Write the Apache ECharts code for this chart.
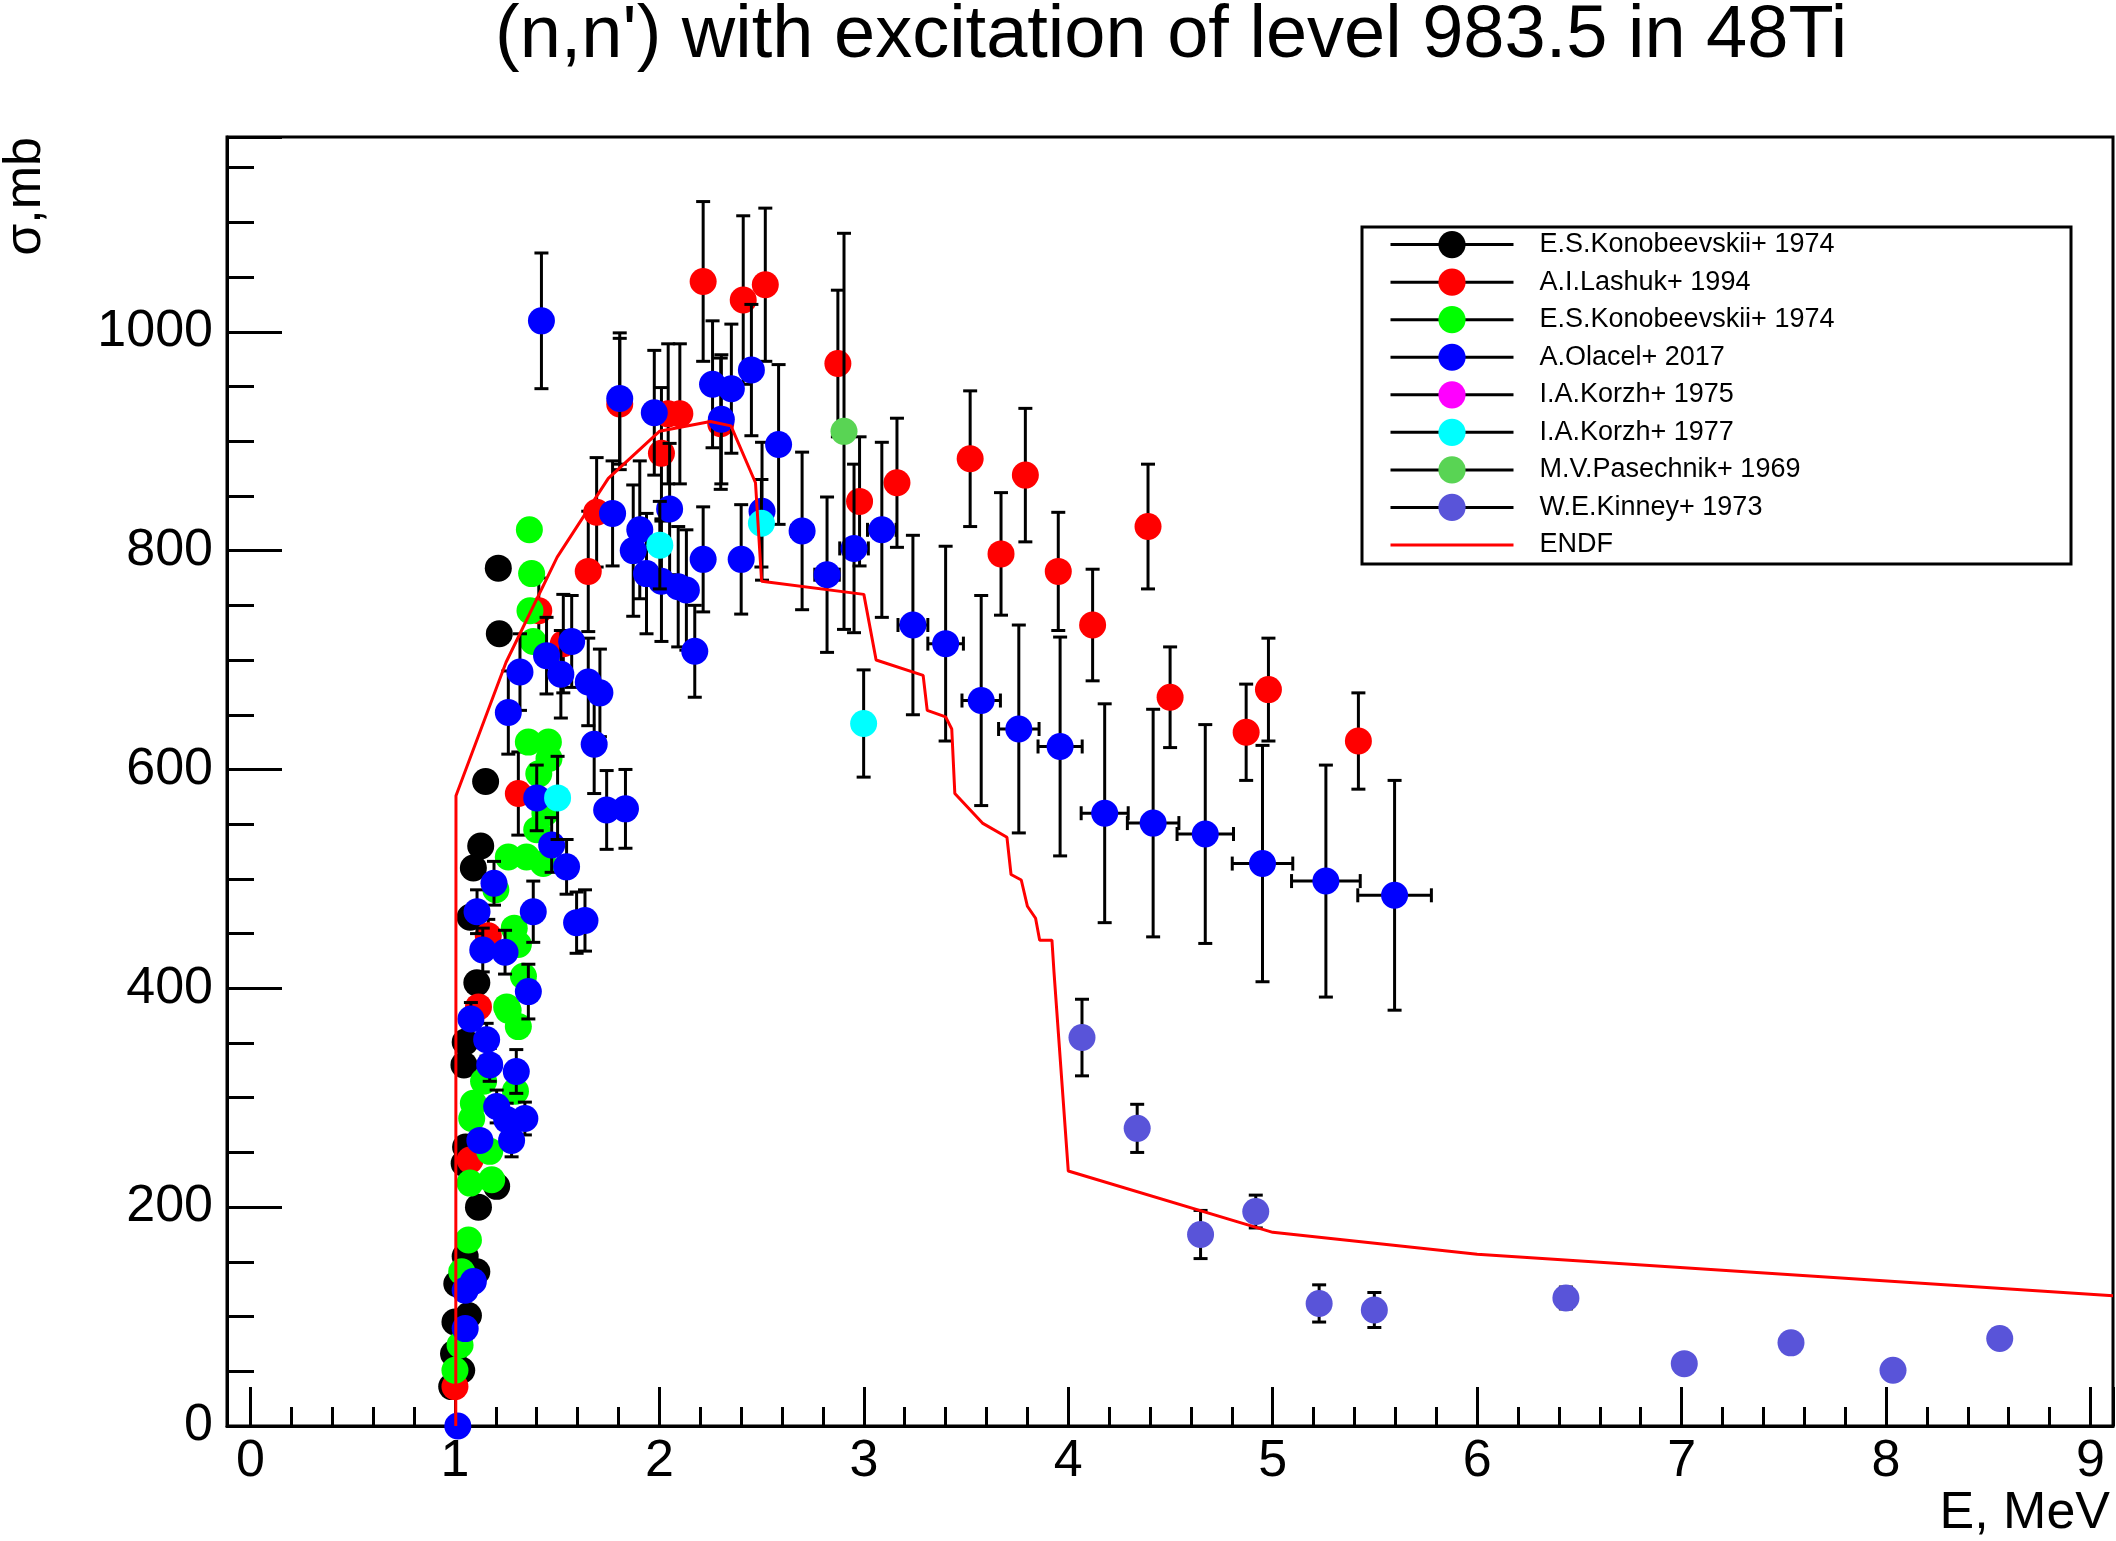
<!DOCTYPE html>
<html>
<head>
<meta charset="utf-8">
<script src="https://cdn.jsdelivr.net/npm/echarts@6.0.0/dist/echarts.min.js"></script>
<style>
html,body{margin:0;padding:0;background:#fff;}
#chart{width:2116px;height:1541px;}
</style>
</head>
<body>
<div id="chart"></div>
<script>
// ---------------- data ----------------
// [E (MeV), sigma (mb)]
const konobeevskiiBlack = [
  [0.984,36],[0.993,66],[1.0,95],[1.009,130],[1.033,51],[1.044,330],[1.045,240],[1.05,155],
  [1.05,351],[1.052,255],[1.066,101],[1.074,465],[1.09,510],[1.107,141],[1.107,405],[1.115,200],
  [1.126,530],[1.15,589],[1.204,219],[1.212,784],[1.217,724]
];
// [E, sigma, dSigma]
const lashuk = [
  [1.0,36,0],[1.074,243,0],[1.115,383,0],[1.163,448,15],[1.31,578,38],[1.41,745,30],[1.53,715,45],
  [1.652,781,55],[1.693,835,50],[1.806,934,60],[2.01,889,60],[2.043,925,64],[2.10,925,64],
  [2.214,1046,73],[2.30,916,60],[2.41,1029,77],[2.518,1043,70],[2.873,971,67],[2.979,845,59],
  [3.162,862,59],[3.52,884,62],[3.671,797,56],[3.79,869,61],[3.951,781,54],[4.119,732,51],
  [4.39,822,57],[4.498,666,46],[4.87,634,44],[4.979,673,47],[5.419,626,44]
];
// [E, sigma]
const konobeevskiiGreen = [
  [1.0,51],[1.025,74],[1.033,141],[1.066,170],[1.074,222],[1.082,281],[1.09,295],[1.14,315],
  [1.17,251],[1.18,225],[1.26,380],[1.31,365],[1.296,306],[1.253,383],[1.335,411],[1.31,440],
  [1.29,455],[1.2,490],[1.261,520],[1.35,520],[1.432,514],[1.41,596],[1.46,610],[1.359,625],
  [1.457,625],[1.383,717],[1.367,745],[1.375,779],[1.364,819],[1.44,560],[1.40,545]
];
// [E, sigma, dSigma, dE]
const olacel = [
  [1.014,0,0,0],[1.05,89,0,0],[1.05,124,0,0],[1.09,132,0,0],[1.078,372,15,0],[1.155,353,15,0],
  [1.17,330,15,0],[1.30,324,20,0],[1.204,292,15,0],[1.342,281,15,0],[1.253,280,15,0],[1.122,261,0,0],
  [1.277,261,15,0],[1.359,397,25,0],[1.136,435,20,0],[1.245,433,20,0],[1.108,470,20,0],
  [1.383,470,28,0],[1.595,460,28,0],[1.636,462,28,0],[1.191,496,20,0],[1.546,511,25,0],
  [1.473,531,25,0],[1.40,574,30,0],[1.742,563,36,0],[1.834,564,36,0],[1.681,623,45,0],
  [1.261,652,38,0],[1.318,689,35,0],[1.448,704,35,0],[1.518,687,40,0],[1.652,680,40,0],
  [1.709,670,40,0],[1.571,717,42,0],[1.423,1010,62,0],[1.771,834,48,0],
  [1.806,939,60,0],[1.872,800,60,0],[1.904,819,63,0],[1.937,779,55,0],[1.975,926,57,0],
  [2.01,772,55,0],[2.05,838,60,0],[2.092,767,55,0],[2.132,764,55,0],[2.173,708,42,0],
  [2.214,792,48,0],[2.26,952,58,0],[2.303,920,59,0],[2.352,948,59,0],[2.40,792,50,0],
  [2.45,965,60,0],[2.502,836,63,0],[2.583,897,73,0],[2.698,818,72,0.05],[2.82,778,71,0.06],
  [2.952,802,77,0.07],[3.088,819,80,0.07],[3.24,732,82,0.073],[3.40,715,89,0.087],
  [3.574,663,96,0.094],[3.758,637,95,0.099],[3.96,621,100,0.108],[4.178,560,100,0.115],
  [4.415,551,104,0.126],[4.67,541,100,0.138],[4.95,514,108,0.148],[5.26,498,106,0.168],
  [5.596,485,105,0.18]
];
const korzh1975 = [];
// [E, sigma, dSigma]
const korzh1977 = [[1.502,574,38],[2.002,805,40],[2.499,825,40],[2.999,642,49]];
const pasechnik = [[2.903,909,181]];
const kinney = [
  [4.067,355,35],[4.337,272,22],[4.647,175,22],[4.917,196,15],[5.227,112,17],[5.497,106,16],
  [6.434,117,10],[7.013,57,8],[7.535,76,8],[8.034,51,8],[8.556,80,8]
];
// ENDF evaluation [E, sigma]
const endf = [
  [1.004,0],[1.005,576],[1.25,698],[1.5,794],[1.75,866],[2.0,909],[2.25,918],[2.35,914],
  [2.47,862],[2.5,772],[3.0,760],[3.06,700],[3.29,686],[3.31,654],[3.40,648],[3.43,637],
  [3.445,578],[3.58,551],[3.70,538],[3.72,504],[3.77,499],[3.80,475],[3.84,464],[3.86,444],
  [3.92,444],[3.93,415],[4.0,233],[5.0,177],[6.0,157],[9.11,119]
];
const titleText = "(n,n') with excitation of level 983.5 in 48Ti";
const xTitle = 'E, MeV';
const yTitle = 'σ,mb';

// ---------------- chart ----------------
const FONT = '"Liberation Sans", Arial, Helvetica, sans-serif';
const sets = [
  {name:'E.S.Konobeevskii+ 1974', color:'#000000', data:konobeevskiiBlack},
  {name:'A.I.Lashuk+ 1994', color:'#ff0000', data:lashuk},
  {name:'E.S.Konobeevskii+ 1974 (2)', color:'#00ff00', data:konobeevskiiGreen},
  {name:'A.Olacel+ 2017', color:'#0000ff', data:olacel},
  {name:'I.A.Korzh+ 1975', color:'#ff00ff', data:korzh1975},
  {name:'I.A.Korzh+ 1977', color:'#00ffff', data:korzh1977},
  {name:'M.V.Pasechnik+ 1969', color:'#59d454', data:pasechnik},
  {name:'W.E.Kinney+ 1973', color:'#5954d9', data:kinney}
];

const CAP = 7;
function errRender(params, api) {
  const x = api.value(0), y = api.value(1), ey = api.value(2), ex = api.value(3);
  const style = {stroke:'#000', lineWidth:3};
  const ch = [];
  if (ey > 0) {
    const t = api.coord([x, y + ey]), b = api.coord([x, y - ey]);
    ch.push({type:'line', shape:{x1:t[0], y1:t[1], x2:b[0], y2:b[1]}, style});
    ch.push({type:'line', shape:{x1:t[0]-CAP, y1:t[1], x2:t[0]+CAP, y2:t[1]}, style});
    ch.push({type:'line', shape:{x1:b[0]-CAP, y1:b[1], x2:b[0]+CAP, y2:b[1]}, style});
  }
  if (ex > 0) {
    const l = api.coord([x - ex, y]), r = api.coord([x + ex, y]);
    ch.push({type:'line', shape:{x1:l[0], y1:l[1], x2:r[0], y2:r[1]}, style});
    ch.push({type:'line', shape:{x1:l[0], y1:l[1]-CAP, x2:l[0], y2:l[1]+CAP}, style});
    ch.push({type:'line', shape:{x1:r[0], y1:r[1]-CAP, x2:r[0], y2:r[1]+CAP}, style});
  }
  return {type:'group', children:ch};
}

const series = [];
sets.forEach((s, i) => {
  series.push({
    type:'line', name:s.name, z:3 + 2*i, silent:true, animation:false,
    data:s.data.map(d => [d[0], d[1]]),
    symbol:'circle', symbolSize:27, showSymbol:true,
    lineStyle:{opacity:0, width:0},
    itemStyle:{color:s.color, borderWidth:0},
    emphasis:{disabled:true}
  });
  const withErr = s.data.filter(d => (d[2] || 0) > 0 || (d[3] || 0) > 0);
  if (withErr.length) {
    series.push({
      type:'custom', name:s.name + ' errors', z:2 + 2*i, silent:true, animation:false,
      data:withErr.map(d => [d[0], d[1], d[2] || 0, d[3] || 0]),
      encode:{x:0, y:1},
      renderItem:errRender
    });
  }
});
series.push({
  type:'line', name:'ENDF', z:30, silent:true, animation:false,
  data:endf, symbol:'none', showSymbol:false,
  lineStyle:{color:'#ff0000', width:3},
  itemStyle:{color:'#ff0000'},
  emphasis:{disabled:true}
});

const legendData = sets.map(s => ({name:s.name}));
legendData.push({name:'ENDF', lineStyle:{color:'#ff0000', width:3, opacity:1}, itemStyle:{opacity:0}});

const chart = echarts.init(document.getElementById('chart'), null, {renderer:'canvas'});
chart.setOption({
  animation:false,
  backgroundColor:'#ffffff',
  textStyle:{fontFamily:FONT},
  title:{
    text:titleText, left:495, top:0, padding:0,
    textStyle:{fontSize:74, fontWeight:'normal', color:'#000', fontFamily:FONT}
  },
  grid:{left:225, right:3, top:137, bottom:115, show:true, borderColor:'#000', borderWidth:3, backgroundColor:'transparent'},
  xAxis:{
    type:'value', min:-0.115, max:9.11, splitNumber:9,
    name:xTitle, nameLocation:'end', nameGap:0, nameMoveOverlap:false,
    nameTextStyle:{fontSize:52, color:'#000', fontFamily:FONT, align:'right', verticalAlign:'top', padding:[62,3,0,0]},
    axisLine:{show:true, onZero:false, lineStyle:{color:'#000', width:3}},
    axisTick:{show:true, inside:true, length:39, lineStyle:{color:'#000', width:3}},
    minorTick:{show:true, splitNumber:5, length:19, lineStyle:{color:'#000', width:3}},
    axisLabel:{fontSize:52, color:'#000', fontFamily:FONT, margin:10, showMinLabel:false, showMaxLabel:false,
      formatter:v => String(v)},
    splitLine:{show:false}, minorSplitLine:{show:false}
  },
  yAxis:{
    type:'value', min:0, max:1178, interval:200,
    name:yTitle, nameLocation:'end', nameGap:0, nameRotate:90, nameMoveOverlap:false,
    nameTextStyle:{fontSize:52, color:'#000', fontFamily:FONT, align:'right', verticalAlign:'bottom', padding:[0,0,175,0]},
    axisLine:{show:true, onZero:false, lineStyle:{color:'#000', width:3}},
    axisTick:{show:true, inside:true, length:55, lineStyle:{color:'#000', width:3}},
    minorTick:{show:true, splitNumber:4, length:27, lineStyle:{color:'#000', width:3}},
    axisLabel:{fontSize:52, color:'#000', fontFamily:FONT, margin:14, showMaxLabel:false,
      formatter:v => String(v)},
    splitLine:{show:false}, minorSplitLine:{show:false}
  },
  legend:{
    orient:'vertical', left:1389, top:231, padding:0, itemGap:10.35,
    itemWidth:123, itemHeight:34, selectedMode:false,
    data:legendData,
    formatter:n => n.replace(' (2)', ''),
    textStyle:{fontSize:27, color:'#000', fontFamily:FONT, padding:[0,0,0,21]},
    lineStyle:{color:'#000', width:3, opacity:1, type:'solid'},
    itemStyle:{borderWidth:0}
  },
  graphic:[{
    type:'rect', silent:true, z:0,
    shape:{x:1362, y:227, width:709, height:337},
    style:{fill:'#ffffff', stroke:'#000', lineWidth:3}
  }],
  series:series
});
</script>
</body>
</html>
